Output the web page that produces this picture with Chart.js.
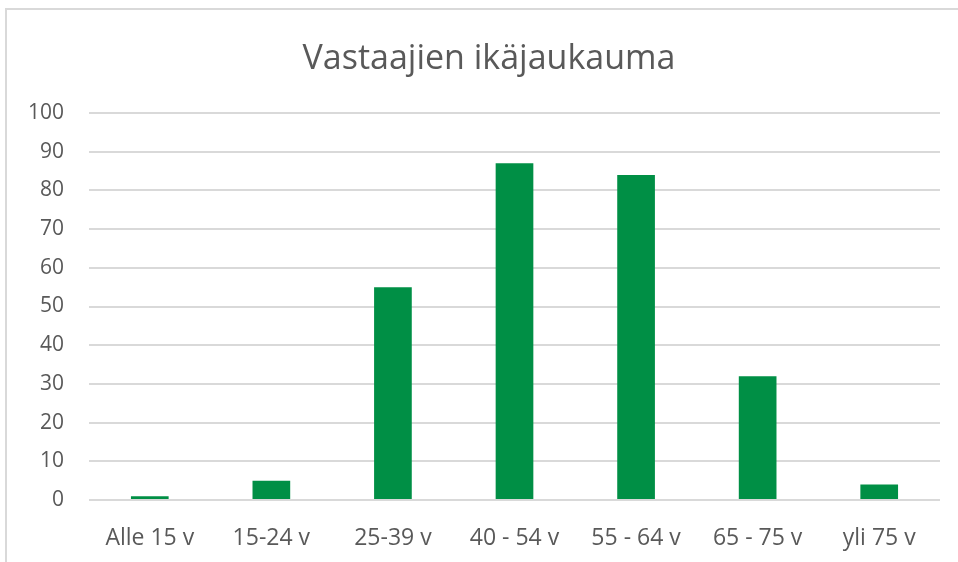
<!DOCTYPE html>
<html><head><meta charset="utf-8">
<script src="https://cdn.jsdelivr.net/npm/chart.js@4/dist/chart.umd.min.js"></script>
<style>
html,body{margin:0;padding:0;background:#fff;overflow:hidden;}
#frame{position:absolute;left:5px;top:8px;width:1000px;height:600px;border-left:2px solid #d9d9d9;border-top:2px solid #d9d9d9;box-sizing:border-box;}
#wrap{position:absolute;left:0;top:0;width:958px;height:562px;}
</style></head>
<body>
<div id="frame"></div>
<div id="wrap"><canvas id="c" width="958" height="562"></canvas></div>
<script>
const title = "Vastaajien ikäjaukauma";
const categories = ["Alle 15 v","15-24 v","25-39 v","40 - 54 v","55 - 64 v","65 - 75 v","yli 75 v"];
const values = [1,5,55,87,84,32,4];
const yTicks = [0,10,20,30,40,50,60,70,80,90,100];

const shiftTitle = {
  id: 'shiftTitle',
  afterLayout(chart) { if (chart.titleBlock) { chart.titleBlock.left = 38; } }
};

new Chart(document.getElementById('c'), {
  type: 'bar',
  data: { labels: categories, datasets: [{ data: values, backgroundColor: '#008F45', borderWidth: 0, categoryPercentage: 1, barPercentage: 0.31 }] },
  options: {
    responsive: false, animation: false,
    layout: { padding: { left: 0, right: 18, top: 6, bottom: 0 } },
    plugins: {
      legend: { display: false }, tooltip: { enabled: false },
      title: { display: true, text: title, color: '#595959', font: { family: 'Open Sans', size: 34, weight: 'normal', lineHeight: 1.2 }, padding: { top: 33, bottom: 33.2 } }
    },
    scales: {
      x: {
        afterFit: s => { s.height = 62; },
        grid: { display: false }, border: { display: false },
        ticks: { color: '#595959', font: { family: 'Open Sans', size: 23, lineHeight: 1.2 }, padding: 17, maxRotation: 0, autoSkip: false }
      },
      y: {
        min: 0, max: 100,
        afterBuildTicks: s => { s.ticks = yTicks.map(v => ({ value: v })); },
        afterFit: s => { s.width = 89; },
        grid: { color: '#d9d9d9', lineWidth: 2, drawTicks: false },
        border: { display: false },
        ticks: { color: '#595959', font: { family: 'Open Sans', size: 21 }, padding: 25 }
      }
    }
  },
  plugins: [shiftTitle]
});
</script>
</body></html>
